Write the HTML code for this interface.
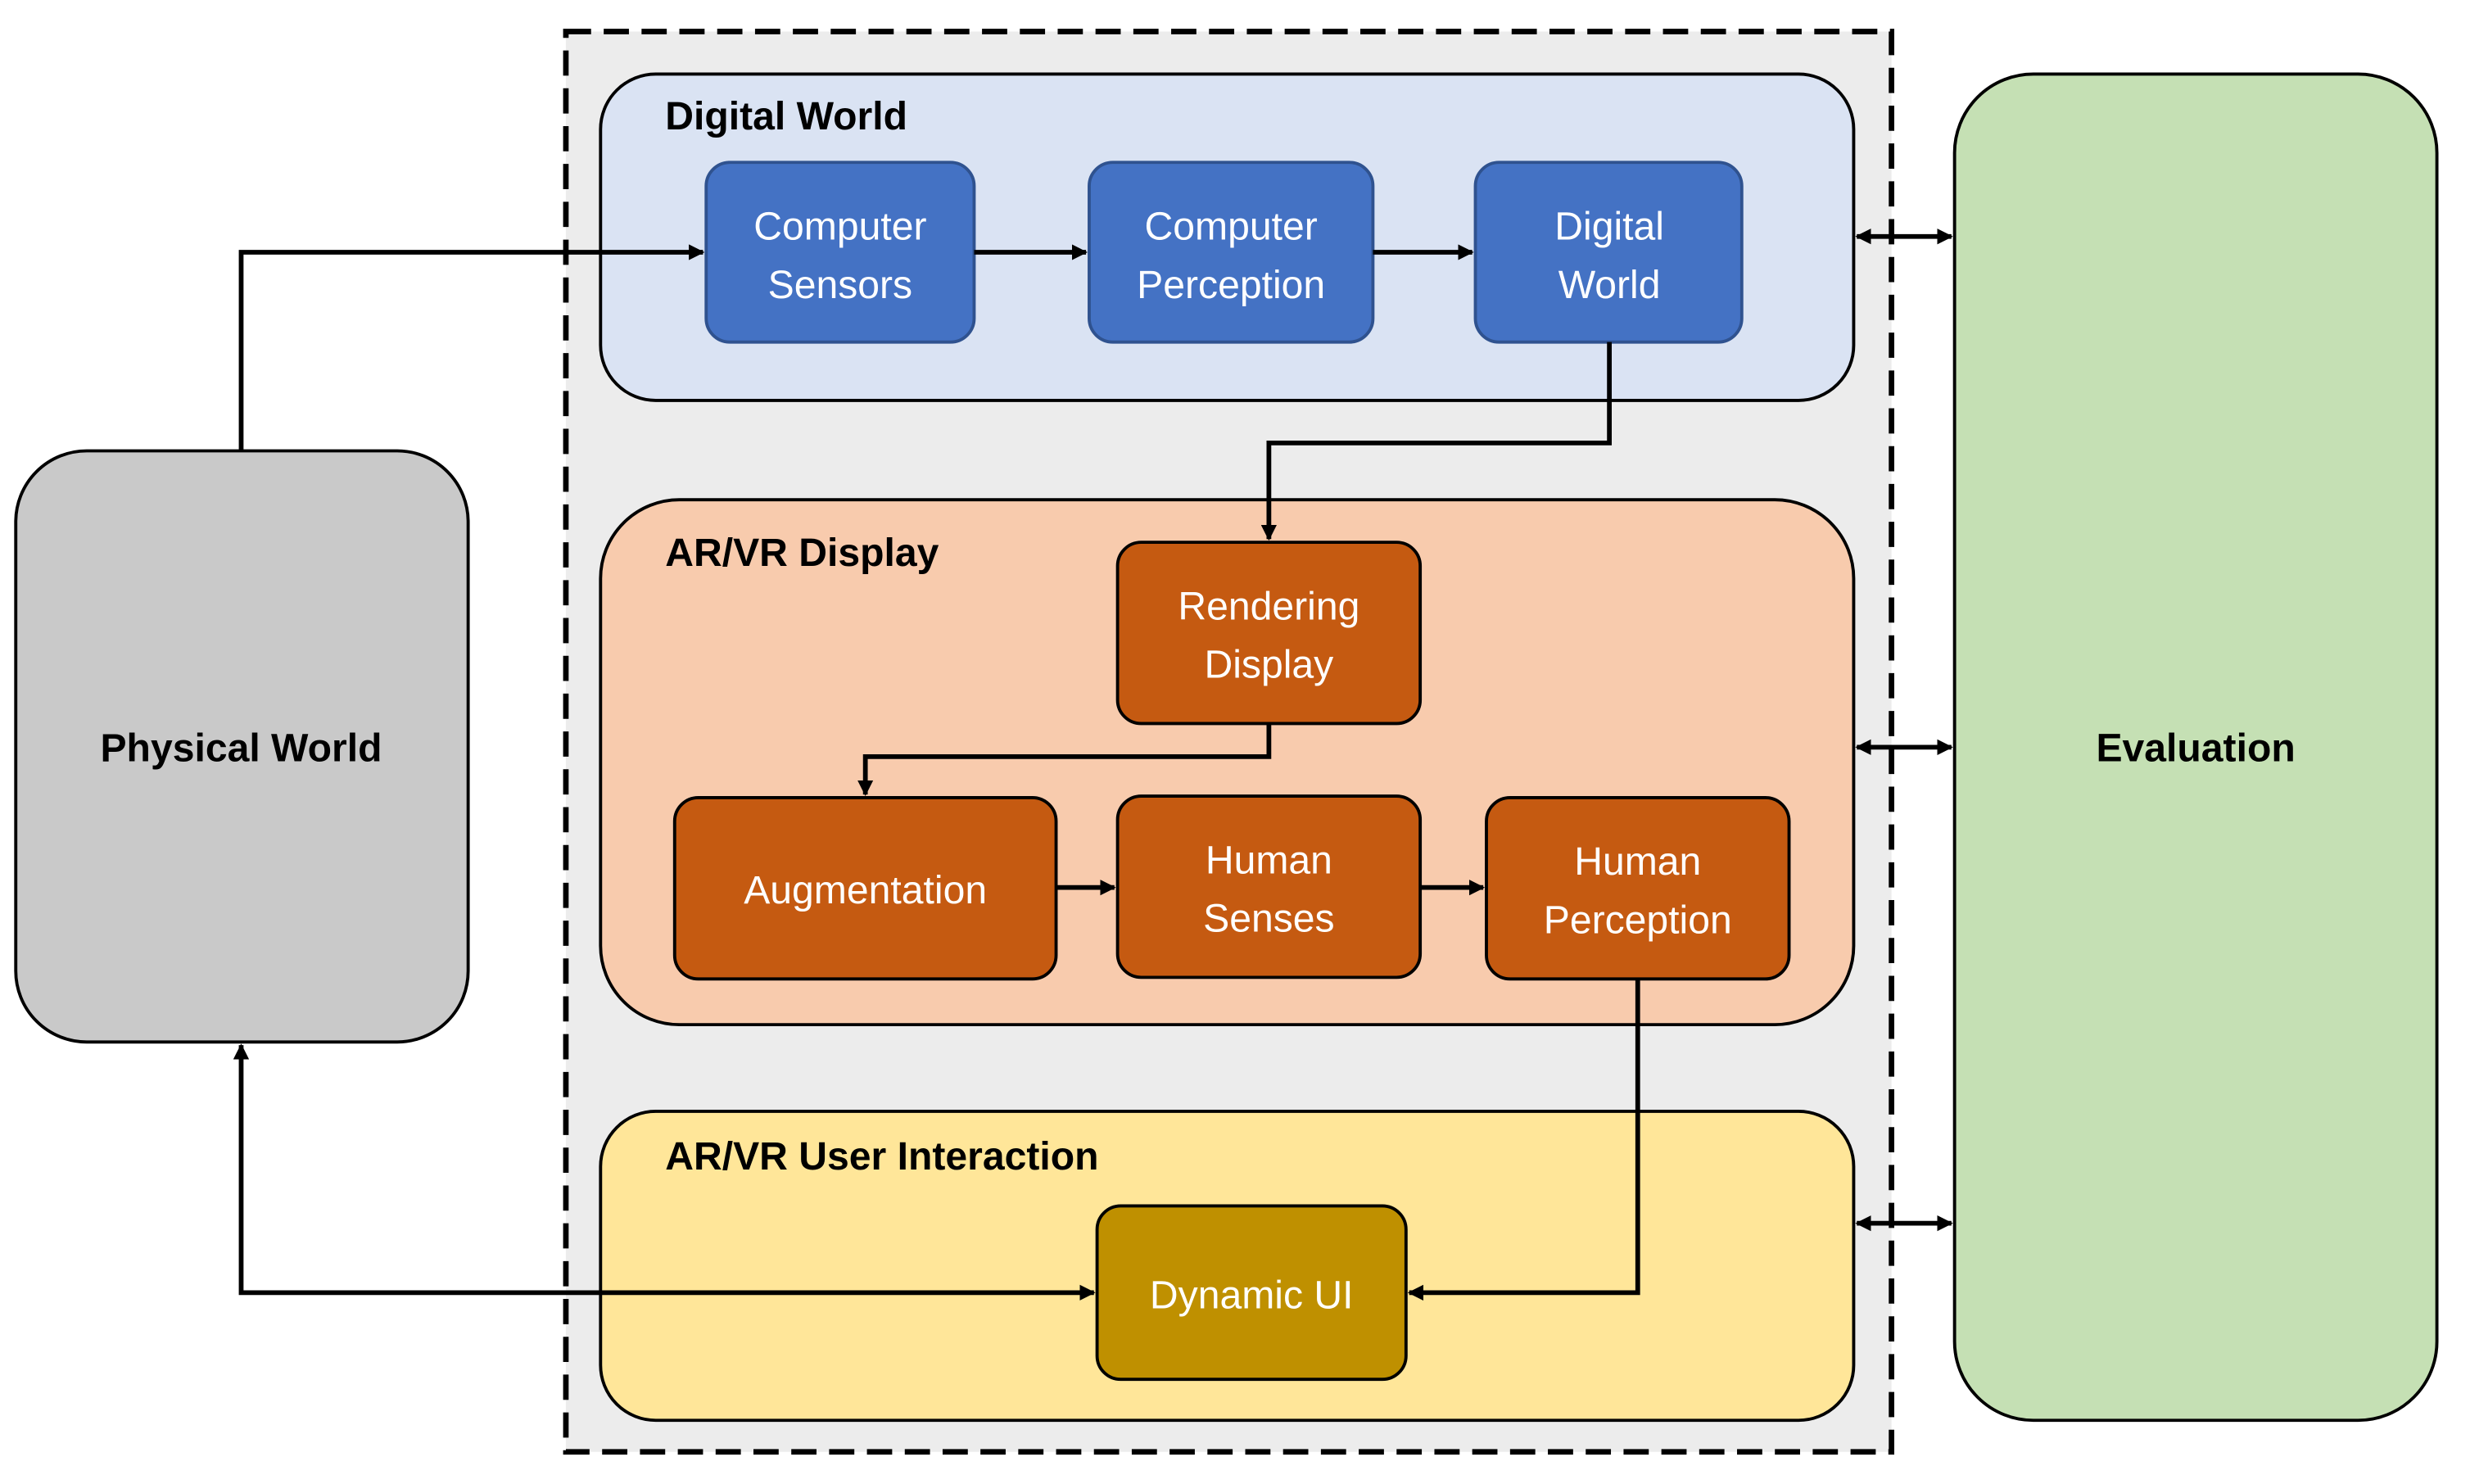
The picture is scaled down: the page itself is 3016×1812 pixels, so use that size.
<!DOCTYPE html>
<html><head><meta charset="utf-8"><style>html,body{margin:0;padding:0;background:#fff}svg{display:block}</style></head>
<body>
<svg width="3016" height="1812" viewBox="0 0 1567 941.4" preserveAspectRatio="none" xmlns="http://www.w3.org/2000/svg" font-family="Liberation Sans, sans-serif">
<defs>
<marker id="a" markerWidth="10" markerHeight="10" refX="9" refY="5" orient="auto-start-reverse" markerUnits="userSpaceOnUse"><path d="M0,0 L10,5 L0,10 z" fill="#000"/></marker>
</defs>
<rect x="359" y="20" width="841" height="901" fill="#ececec" stroke="#000" stroke-width="3.5" stroke-dasharray="16,8"/>
<rect x="381" y="47" width="795" height="207" rx="35" fill="#dae3f3" stroke="#000" stroke-width="2"/>
<rect x="381" y="317" width="795" height="333" rx="50" fill="#f8cbad" stroke="#000" stroke-width="2"/>
<rect x="381" y="705" width="795" height="196" rx="35" fill="#ffe699" stroke="#000" stroke-width="2"/>
<rect x="10" y="286" width="287" height="375" rx="45" fill="#c9c9c9" stroke="#000" stroke-width="2"/>
<rect x="1240" y="47" width="306" height="854" rx="50" fill="#c5e0b4" stroke="#000" stroke-width="2"/>
<g stroke="#2f528f" stroke-width="2" fill="#4472c4">
<rect x="448" y="103" width="170" height="114" rx="15"/>
<rect x="691" y="103" width="180" height="114" rx="15"/>
<rect x="936" y="103" width="169" height="114" rx="15"/>
</g>
<g stroke="#000" stroke-width="2" fill="#c55a11">
<rect x="709" y="344" width="192" height="115" rx="15"/>
<rect x="428" y="506" width="242" height="115" rx="15"/>
<rect x="709" y="505" width="192" height="115" rx="15"/>
<rect x="943" y="506" width="192" height="115" rx="15"/>
</g>
<rect x="696" y="765" width="196" height="110" rx="15" fill="#bf9000" stroke="#000" stroke-width="2"/>
<g fill="none" stroke="#000" stroke-width="3">
<polyline points="153,286 153,160 446,160" marker-end="url(#a)"/>
<line x1="618" y1="160" x2="689" y2="160" marker-end="url(#a)"/>
<line x1="871" y1="160" x2="934" y2="160" marker-end="url(#a)"/>
<polyline points="1021,217 1021,281 805,281 805,342" marker-end="url(#a)"/>
<polyline points="805,459 805,480 549,480 549,504" marker-end="url(#a)"/>
<line x1="670" y1="563" x2="707" y2="563" marker-end="url(#a)"/>
<line x1="901" y1="563" x2="941" y2="563" marker-end="url(#a)"/>
<polyline points="1039,621 1039,820 894,820" marker-end="url(#a)"/>
<polyline points="694,820 153,820 153,663" marker-start="url(#a)" marker-end="url(#a)"/>
<line x1="1178" y1="150" x2="1238" y2="150" marker-start="url(#a)" marker-end="url(#a)"/>
<line x1="1178" y1="474" x2="1238" y2="474" marker-start="url(#a)" marker-end="url(#a)"/>
<line x1="1178" y1="776" x2="1238" y2="776" marker-start="url(#a)" marker-end="url(#a)"/>
</g>
<g font-size="25" font-weight="bold" fill="#000">
<text x="422" y="82">Digital World</text>
<text x="422" y="359">AR/VR Display</text>
<text x="422" y="742">AR/VR User Interaction</text>
<text x="153" y="483" text-anchor="middle">Physical World</text>
<text x="1393" y="483" text-anchor="middle">Evaluation</text>
</g>
<g font-size="25" fill="#fff" text-anchor="middle">
<text x="533" y="152">Computer</text><text x="533" y="189">Sensors</text>
<text x="781" y="152">Computer</text><text x="781" y="189">Perception</text>
<text x="1021" y="152">Digital</text><text x="1021" y="189">World</text>
<text x="805" y="393">Rendering</text><text x="805" y="430">Display</text>
<text x="549" y="573">Augmentation</text>
<text x="805" y="554">Human</text><text x="805" y="591">Senses</text>
<text x="1039" y="555">Human</text><text x="1039" y="592">Perception</text>
<text x="794" y="830">Dynamic UI</text>
</g>
</svg>
</body></html>
